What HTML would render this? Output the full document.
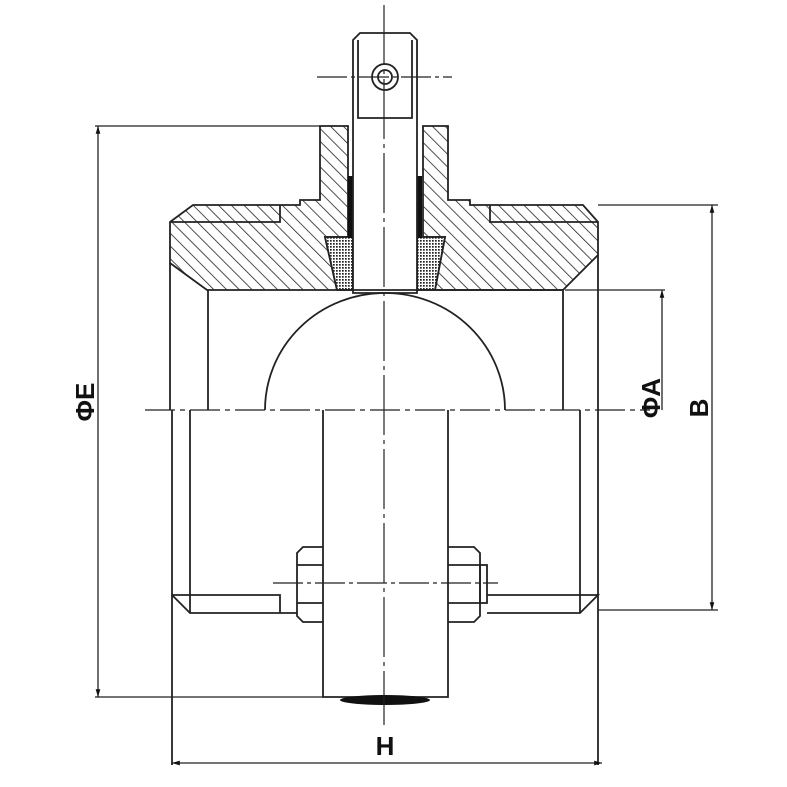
<!DOCTYPE html>
<html><head><meta charset="utf-8"><style>html,body{margin:0;padding:0;background:#fff}svg{display:block}</style></head><body>
<svg width="787" height="787" viewBox="0 0 787 787" xmlns="http://www.w3.org/2000/svg">
<defs>
<pattern id="h" width="9" height="9" patternUnits="userSpaceOnUse" patternTransform="rotate(-45)">
<line x1="0" y1="0" x2="0" y2="9" stroke="#222" stroke-width="1.6"/></pattern>
<pattern id="x" width="3" height="3" patternUnits="userSpaceOnUse">
<rect width="3" height="3" fill="#fff"/><rect width="1.7" height="1.7" fill="#222"/></pattern>
<marker id="a" viewBox="0 0 10 10" refX="10" refY="5" markerWidth="10" markerHeight="6" orient="auto-start-reverse"><path d="M0,2 L10,5 L0,8z" fill="#111"/></marker>
</defs>
<g fill="none" stroke="#222" stroke-width="1.8">
<path d="M170,222 L193,205 L300,205 L300,200 L320,200 L320,126 L348,126 L348,237 L325,237 L337,290 L207,290 L170,263Z" fill="url(#h)"/>
<path d="M598,222 L583,205 L470,205 L470,200 L448,200 L448,126 L423,126 L423,237 L445,237 L435,290 L563,290 L598,255Z" fill="url(#h)"/>
<path d="M170,222 L280,222 L280,205 M490,205 L490,222 L598,222"/>
<path d="M325,237 L353,237 L353,290 L337,290Z" fill="url(#x)"/>
<path d="M417,237 L445,237 L435,290 L417,290Z" fill="url(#x)"/>
<rect x="348" y="176" width="5" height="62" fill="#111" stroke="none"/>
<rect x="417" y="176" width="5" height="62" fill="#111" stroke="none"/>
<path d="M353,293 L353,40 L360,33 L410,33 L417,40 L417,293 Z" fill="#fff"/>
<path d="M358,40 L358,118 L412,118 L412,40"/>
<circle cx="385" cy="77" r="13"/><circle cx="385" cy="77" r="7"/>
<path d="M337,290 L563,290"/>
<path d="M208,290 L208,410 M563,290 L563,410 M170,263 L170,410 M598,255 L598,410"/>
<path d="M265,410 A120,117 0 0 1 505,410"/>
<path d="M172,410 L172,765 M598,410 L598,765 M190,410 L190,613 M580,410 L580,613"/>
<path d="M323,410 L323,697 L448,697 L448,410"/>
<path d="M172,595 L280,595 L280,613 M172,595 L190,613 L297,613"/>
<path d="M487,595 L598,595 L580,613 L487,613"/>
<path d="M323,547 L303,547 L297,553 L297,616 L303,622 L323,622 M297,565 L323,565 M297,603 L323,603"/>
<path d="M448,547 L474,547 L480,553 L480,616 L474,622 L448,622 M448,565 L480,565 M448,603 L480,603"/>
<rect x="480" y="565" width="7" height="38"/>
</g>
<ellipse cx="385" cy="700" rx="45" ry="5" fill="#111"/>
<g stroke="#222" stroke-width="1.2" fill="none">
<path d="M384,5 L384,725" stroke-dasharray="60,5,4,5"/>
<path d="M317,77 L452,77" stroke-dasharray="30,4,4,4"/>
<path d="M145,410 L650,410" stroke-dasharray="30,5,5,5"/>
<path d="M273,583 L498,583" stroke-dasharray="30,4,4,4"/>
</g>
<g stroke="#222" stroke-width="1.3" fill="none">
<path d="M95,126 L320,126 M95,697 L323,697"/>
<path d="M98,126 L98,697" marker-start="url(#a)" marker-end="url(#a)"/>
<path d="M565,290 L665,290"/>
<path d="M662,410 L662,290" marker-end="url(#a)"/>
<path d="M598,205 L718,205 M598,610 L718,610"/>
<path d="M712,205 L712,610" marker-start="url(#a)" marker-end="url(#a)"/>
<path d="M172,763 L602,763" marker-start="url(#a)" marker-end="url(#a)"/>
</g>
<g font-family="Liberation Sans, sans-serif" font-weight="bold" font-size="26" fill="#111" text-anchor="middle">
<text x="385" y="755">H</text>
<text transform="translate(94,402) rotate(-90)">ΦE</text>
<text transform="translate(660,398) rotate(-90)">ΦA</text>
<text transform="translate(708,408) rotate(-90)">B</text>
</g>
</svg>
</body></html>
